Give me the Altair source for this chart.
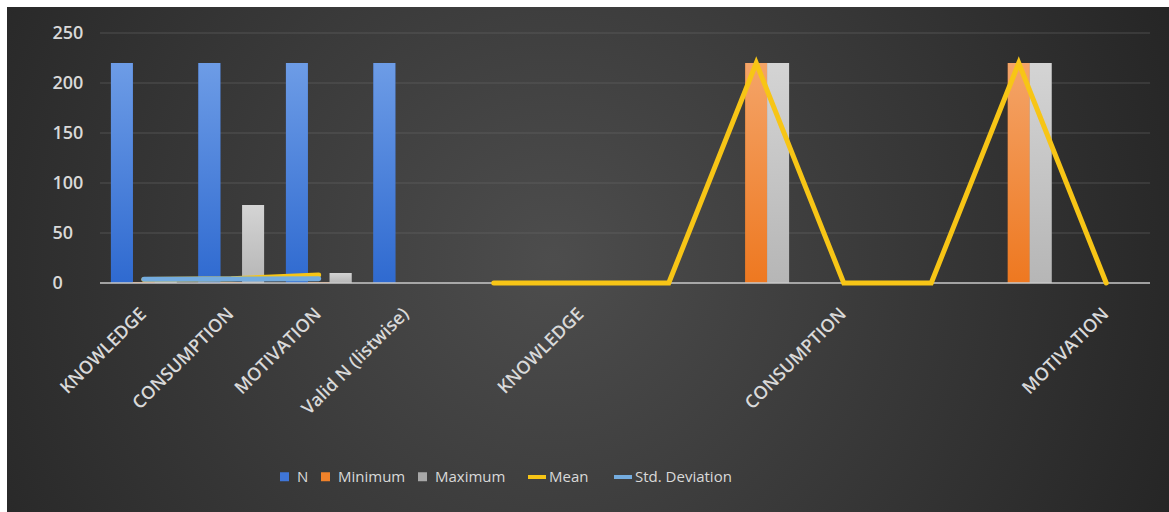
import json
import altair as alt
import pandas as pd

# ---------------- data ----------------
categories = ["KNOWLEDGE", "CONSUMPTION", "MOTIVATION", "Valid N (listwise)", "",
              "KNOWLEDGE", "", "", "CONSUMPTION", "", "", "MOTIVATION"]
n_values = [220, 220, 220, 220, None, None, None, None, None, None, None, None]
min_values = [1, 1, 1, None, None, None, None, 220, None, None, 220, None]
max_values = [5, 78, 10, None, None, None, None, 220, None, None, 220, None]
mean_values = [3.5, 4.2, 8.0, None, 0, 0, 0, 220, 0, 0, 220, 0]
std_values = [3.8, 4.0, 4.2, None, None, None, None, None, None, None, None, None]
y_ticks = [0, 50, 100, 150, 200, 250]

bar_names = ["N", "Minimum", "Maximum"]
bar_colors = ["#3f76d8", "#f0822a", "#a8a8a8"]
line_names = ["Mean", "Std. Deviation"]
line_colors = ["#f7c516", "#74acdf"]
bar_gradients = {
    "N": ("#6d9ce6", "#2f6ad0"),
    "Minimum": ("#f4a468", "#ee7820"),
    "Maximum": ("#d4d4d4", "#b6b6b6"),
}

# ---------------- tables ----------------
bar_rows = []
for name, vals in zip(bar_names, [n_values, min_values, max_values]):
    for i, v in enumerate(vals):
        if v is not None:
            bar_rows.append({"idx": i, "series": name, "value": v})
bars_df = pd.DataFrame(bar_rows)


def line_table(name, vals):
    rows, seg, gap = [], 0, True
    for i, v in enumerate(vals):
        if v is None:
            gap = True
            continue
        if gap:
            seg += 1
            gap = False
        rows.append({"idx": i, "series": name, "value": v, "seg": f"{name}-{seg}"})
    return pd.DataFrame(rows)


mean_df = line_table("Mean", mean_values)
std_df = line_table("Std. Deviation", std_values)
grid_df = pd.DataFrame({"value": y_ticks[1:]})
base_df = pd.DataFrame({"value": [0]})
bg_df = pd.DataFrame({"k": [0]})

# ---------------- encodings ----------------
FONT = "Open Sans"
TXT = "#d9d9d9"
W, H = 1050, 250
PAD = {"left": 100, "top": 33, "right": 19, "bottom": 229}

label_expr = json.dumps(categories) + "[datum.value]"
x_enc = alt.X(
    "idx:O",
    scale=alt.Scale(domain=list(range(len(categories))), paddingInner=0.25, paddingOuter=0.125),
    axis=alt.Axis(labelExpr=label_expr, labelAngle=-45, labelAlign="right",
                  labelBaseline="middle", labelPadding=28, ticks=False, tickSize=0,
                  domain=False, grid=False, title=None, labelFont=FONT, labelFontSize=18,
                  labelFontWeight=600, labelColor=TXT, zindex=1, labelOverlap=False,
                  labelBound=False, labelLimit=0),
)
y_scale = alt.Scale(domain=[0, 250], nice=False)
y_axis = alt.Axis(values=y_ticks, grid=False, domain=False, ticks=False, tickSize=0,
                  labelAlign="left", labelBaseline="middle", labelPadding=48,
                  labelFont=FONT, labelFontSize=18, labelFontWeight=600,
                  labelColor=TXT, title=None, zindex=1)
y_enc = alt.Y("value:Q", scale=y_scale, axis=y_axis)

bar_legend = alt.Legend(
    orient="none", legendX=177, legendY=436, direction="horizontal", title=None,
    labelFont=FONT, labelFontSize=15, labelColor=TXT, symbolType="square",
    symbolSize=81, symbolStrokeWidth=0, columnPadding=9, labelOffset=5, zindex=1)
line_legend = alt.Legend(
    orient="none", legendX=426, legendY=433, direction="horizontal", title=None,
    labelFont=FONT, labelFontSize=15, labelColor=TXT, symbolType="stroke",
    symbolSize=324, symbolStrokeWidth=4, columnPadding=17, labelOffset=1, zindex=1)

color_enc = alt.Color("series:N", scale=alt.Scale(domain=bar_names, range=bar_colors),
                      legend=bar_legend)
stroke_enc = alt.Stroke("series:N", scale=alt.Scale(domain=line_names, range=line_colors),
                        legend=line_legend)
xoff_enc = alt.XOffset("series:N", scale=alt.Scale(domain=bar_names, paddingInner=0))

# ---------------- layers ----------------
background = alt.Chart(bg_df).mark_rect(
    fill={"gradient": "radial", "x1": 0.47, "y1": 0.5, "r1": 0,
          "x2": 0.47, "y2": 0.5, "r2": 0.58,
          "stops": [{"offset": 0, "color": "#4d4d4d"}, {"offset": 1, "color": "#252525"}]}
).encode(
    x=alt.value(7 - PAD["left"]), x2=alt.value(1169 - PAD["left"]),
    y=alt.value(7 - PAD["top"]), y2=alt.value(512 - PAD["top"]),
)

grid = alt.Chart(grid_df).mark_rule(color="#6a6a6a", strokeWidth=1, opacity=0.55).encode(y=y_enc)

bars = alt.Chart(bars_df).mark_bar().encode(x=x_enc, y=y_enc, xOffset=xoff_enc, color=color_enc)

overlays = []
for name in bar_names:
    top, bottom = bar_gradients[name]
    overlays.append(
        alt.Chart(bars_df).transform_filter(alt.datum.series == name).mark_bar(
            fill={"gradient": "linear", "x1": 0, "y1": 0, "x2": 0, "y2": 1,
                  "stops": [{"offset": 0, "color": top}, {"offset": 1, "color": bottom}]}
        ).encode(x=x_enc, y=y_enc, xOffset=xoff_enc)
    )

baseline = alt.Chart(base_df).mark_rule(color="#c8c8c8", strokeWidth=1.5).encode(y=y_enc)

mean_line = alt.Chart(mean_df).mark_line(strokeWidth=5, strokeCap="round").encode(
    x=x_enc, y=y_enc, stroke=stroke_enc, detail="seg:N")
std_line = alt.Chart(std_df).mark_line(strokeWidth=5, strokeCap="round").encode(
    x=x_enc, y=y_enc, stroke=stroke_enc, detail="seg:N")

chart = alt.layer(background, grid, bars, *overlays, baseline, mean_line, std_line).properties(
    width=W, height=H,
    autosize=alt.AutoSizeParams(type="none"),
    padding=PAD,
    background="white",
).configure_view(stroke=None)

chart.save("out.html", embed_options={"renderer": "svg", "actions": False})
